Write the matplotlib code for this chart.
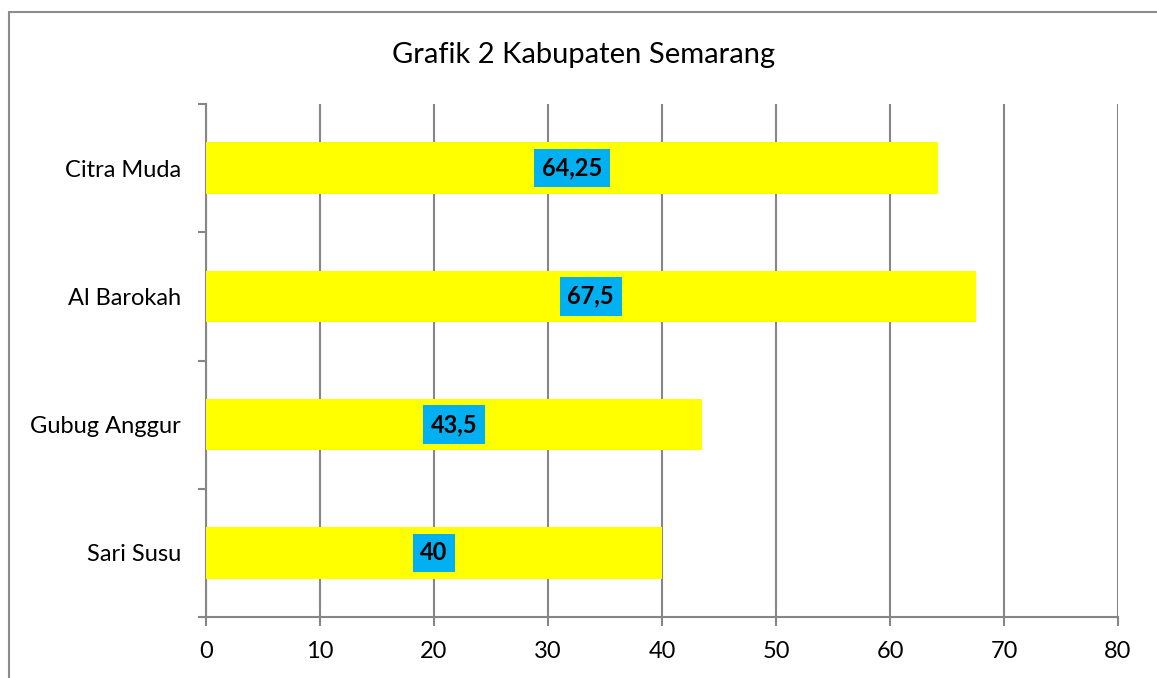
import matplotlib
matplotlib.use("Agg")
import matplotlib.pyplot as plt
from matplotlib.patches import Rectangle

categories = ["Sari Susu", "Gubug Anggur", "Al Barokah", "Citra Muda"]
values = [40, 43.5, 67.5, 64.25]
value_labels = ["40", "43,5", "67,5", "64,25"]
xticks = [0, 10, 20, 30, 40, 50, 60, 70, 80]
title = "Grafik 2 Kabupaten Semarang"

plt.rcParams['font.family'] = ['Lato', 'DejaVu Sans']

W, H = 1157, 678
fig = plt.figure(figsize=(W / 100, H / 100), dpi=100)
ax = fig.add_axes([206 / W, 1 - 617 / H, (1118 - 206) / W, (617 - 104) / H])

grid_c = "#868686"
ypos = list(range(len(categories)))
ax.barh(ypos, values, height=0.4, color="#FFFF00", zorder=3)
for y, v, lab in zip(ypos, values, value_labels):
    ax.text(v / 2, y, lab, ha="center", va="center", fontsize=17, fontweight="bold",
            color="black", zorder=4,
            bbox=dict(boxstyle="square,pad=0.33", fc="#00B0F0", ec="none"))

ax.set_xlim(0, 80)
ax.set_ylim(-0.5, len(categories) - 0.5)
ax.set_xticks(xticks)
ax.set_xticklabels([str(t) for t in xticks], fontsize=17)
ax.set_yticks(ypos)
ax.set_yticklabels(categories, fontsize=17)
ax.tick_params(axis="y", length=0, pad=18)
ax.set_yticks([i - 0.5 for i in range(len(categories) + 1)], minor=True)
ax.tick_params(axis="y", which="minor", length=6, color=grid_c, width=1.5, direction="out")
ax.tick_params(axis="x", length=6.5, color=grid_c, width=1.5, direction="out", pad=11)
ax.xaxis.grid(True, color=grid_c, linewidth=1.5, zorder=0)
ax.set_axisbelow(True)
for s in ["top", "right"]:
    ax.spines[s].set_visible(False)
for s in ["left", "bottom"]:
    ax.spines[s].set_color(grid_c)
    ax.spines[s].set_linewidth(1.5)

fig.text(584 / W, 1 - 55 / H, title, ha="center", va="center", fontsize=21)

fig.patches.append(Rectangle((8.5 / W, -0.05), 1.1, 1 - 12 / H + 0.05,
                             transform=fig.transFigure, fill=False, ec="#8c8c8c",
                             lw=1.5, zorder=-1))

fig.savefig("out.png", dpi=100)
